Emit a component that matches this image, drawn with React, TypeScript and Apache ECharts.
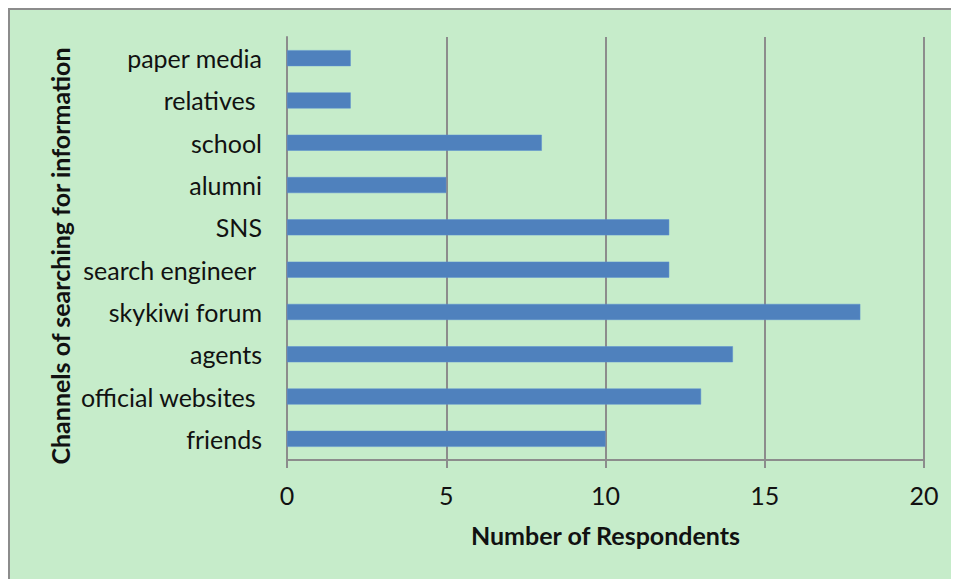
import React, { useEffect, useRef } from "react";
import * as echarts from "echarts";

const categories = [
  "paper media",
  "relatives ",
  "school",
  "alumni",
  "SNS",
  "search engineer ",
  "skykiwi forum",
  "agents",
  "official websites ",
  "friends",
];
const respondents = [2, 2, 8, 5, 12, 12, 18, 14, 13, 10];
const xTicks = { min: 0, max: 20, interval: 5 };
const xTitle = "Number of Respondents";
const yTitle = "Channels of searching for information";

const FONT = "Lato, 'Open Sans', sans-serif";
const GRAY = "#8c8c8c";

export default function App() {
  const ref = useRef<HTMLDivElement>(null);
  useEffect(() => {
    document.documentElement.style.overflow = "hidden";
    if (!ref.current) return;
    const chart = echarts.init(ref.current, undefined, { renderer: "svg" });
    chart.setOption({
      animation: false,
      backgroundColor: "transparent",
      textStyle: { fontFamily: FONT },
      grid: { left: 277, top: 27, width: 637, height: 423, containLabel: false },
      graphic: [
        {
          type: "text",
          x: 50,
          y: 246,
          rotation: Math.PI / 2,
          style: {
            text: yTitle,
            fontFamily: FONT,
            fontSize: 25,
            fontWeight: "bold",
            fill: "#111",
            align: "center",
            verticalAlign: "middle",
          },
          silent: true,
        },
      ],
      xAxis: {
        type: "value",
        min: xTicks.min,
        max: xTicks.max,
        interval: xTicks.interval,
        name: xTitle,
        nameLocation: "middle",
        nameGap: 62,
        nameTextStyle: { fontFamily: FONT, fontSize: 25, fontWeight: "bold", color: "#111" },
        axisLine: { show: true, lineStyle: { color: GRAY, width: 2 } },
        axisTick: { show: true, length: 8, lineStyle: { color: GRAY, width: 2 } },
        axisLabel: { fontFamily: FONT, fontSize: 25, color: "#111", margin: 22 },
        splitLine: { show: true, lineStyle: { color: GRAY, width: 2 } },
      },
      yAxis: {
        type: "category",
        inverse: true,
        data: categories,
        axisLine: { show: true, lineStyle: { color: GRAY, width: 2 } },
        axisTick: { show: false },
        axisLabel: { fontFamily: FONT, fontSize: 25, color: "#111", margin: 25, padding: [0, 0, 3, 0] },
        splitLine: { show: false },
      },
      series: [
        {
          type: "bar",
          data: respondents,
          barWidth: 16,
          itemStyle: { color: "#4f81bd", borderColor: "#5b8fd0", borderWidth: 0.5 },
          silent: true,
        },
      ],
    });
    return () => chart.dispose();
  }, []);
  return (
    <div
      style={{
        width: 951,
        height: 571,
        overflow: "hidden",
        background: "#c6ecca",
        borderLeft: `2px solid ${GRAY}`,
        borderTop: `2px solid ${GRAY}`,
        boxSizing: "border-box",
      }}
    >
      <div ref={ref} style={{ width: 949, height: 569 }} />
    </div>
  );
}
